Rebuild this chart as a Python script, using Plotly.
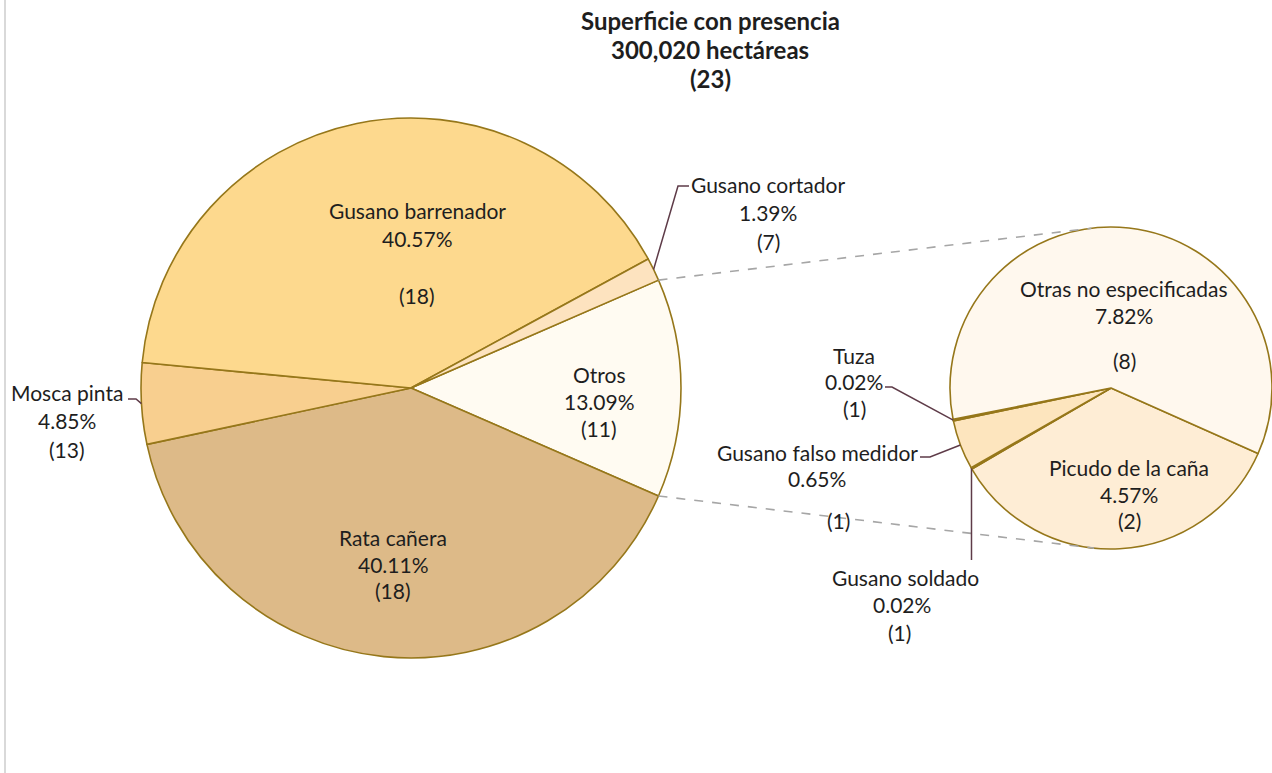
import math
import plotly.graph_objects as go

W, H = 1272, 773

# ---------------- data ----------------
main_labels = ["Otros", "Rata cañera", "Mosca pinta", "Gusano barrenador", "Gusano cortador"]
main_values = [13.09, 40.11, 4.85, 40.57, 1.39]
main_counts = [11, 18, 13, 18, 7]

sub_labels = ["Picudo de la caña", "Gusano soldado", "Gusano falso medidor", "Tuza", "Otras no especificadas"]
sub_values = [4.57, 0.02, 0.65, 0.02, 7.82]
sub_counts = [2, 1, 1, 1, 8]

title_lines = ["Superficie con presencia", "300,020 hectáreas", "(23)"]

# ---------------- style ----------------
main_colors = ["#FFFBF2", "#DDBA88", "#F8CF8F", "#FDD98E", "#FDE3BF"]
sub_colors = ["#FEEDD5", "#C9A24A", "#FDE5BE", "#C9A24A", "#FFF8EE"]
border = "#96771A"
leader = "#5E3B48"
txt = "#1E1E1E"
FONT = "Lato"
FS = 21

# geometry (pixels)
mc = (411, 388); mr = 270
sc = (1111, 388); sr = 161

main_start = 23.55  # math angle where first slice starts (clockwise)
sub_start = -24.0


def px(x, y):
    return x / W, 1 - y / H


def dom(c, r):
    x0, y1 = px(c[0] - r, c[1] - r)
    x1, y0 = px(c[0] + r, c[1] + r)
    return dict(x=[max(0, x0), min(1, x1)], y=[y0, y1])


def slice_angles(values, start):
    tot = sum(values)
    out = []
    a = start
    for v in values:
        span = v / tot * 360
        out.append((a, a - span))
        a -= span
    return out


def pt(c, r, ang):
    return c[0] + r * math.cos(math.radians(ang)), c[1] - r * math.sin(math.radians(ang))


fig = go.Figure()
fig.add_trace(go.Pie(
    labels=main_labels, values=main_values, sort=False, direction="clockwise",
    rotation=90 - main_start, domain=dom(mc, mr), textinfo="none",
    marker=dict(colors=main_colors, line=dict(color=border, width=1.6)),
    showlegend=False, hoverinfo="label+value",
))
fig.add_trace(go.Pie(
    labels=sub_labels, values=sub_values, sort=False, direction="clockwise",
    rotation=90 - sub_start, domain=dom(sc, sr), textinfo="none",
    marker=dict(colors=sub_colors, line=dict(color=border, width=1.6)),
    showlegend=False, hoverinfo="label+value",
))

annotations = []


def add_text(x, y, s, bold=False, size=FS):
    xx, yy = px(x, y)
    annotations.append(dict(
        x=xx, y=yy, xref="paper", yref="paper", text=f"<b>{s}</b>" if bold else s,
        showarrow=False, xanchor="center", yanchor="middle",
        font=dict(family=FONT, size=size, color=txt)))


# title
for s, y in zip(title_lines, [20, 50, 78]):
    add_text(710, y, s, bold=True, size=24)


def pct(v):
    return f"{v:.2f}%"


def label(name, v, n, x, ys, xs=None):
    xs = xs or [x, x, x]
    add_text(xs[0], ys[0], name)
    add_text(xs[1], ys[1], pct(v))
    add_text(xs[2], ys[2], f"({n})")


mi = {k: i for i, k in enumerate(main_labels)}
si = {k: i for i, k in enumerate(sub_labels)}

label("Gusano barrenador", main_values[mi["Gusano barrenador"]], main_counts[mi["Gusano barrenador"]], 417, [210, 238, 295])
label("Gusano cortador", main_values[mi["Gusano cortador"]], main_counts[mi["Gusano cortador"]], 768, [184, 212, 242])
label("Otros", main_values[mi["Otros"]], main_counts[mi["Otros"]], 599, [374, 401, 429])
label("Rata cañera", main_values[mi["Rata cañera"]], main_counts[mi["Rata cañera"]], 393, [537, 564, 590])
label("Mosca pinta", main_values[mi["Mosca pinta"]], main_counts[mi["Mosca pinta"]], 67, [392, 420, 449])
label("Otras no especificadas", sub_values[si["Otras no especificadas"]], sub_counts[si["Otras no especificadas"]], 1124, [288, 315, 360])
label("Picudo de la caña", sub_values[si["Picudo de la caña"]], sub_counts[si["Picudo de la caña"]], 1129, [467, 494, 520])
label("Tuza", sub_values[si["Tuza"]], sub_counts[si["Tuza"]], 854, [355, 382, 408])
label("Gusano falso medidor", sub_values[si["Gusano falso medidor"]], sub_counts[si["Gusano falso medidor"]], 817, [452, 478, 520], xs=[817, 817, 838])
label("Gusano soldado", sub_values[si["Gusano soldado"]], sub_counts[si["Gusano soldado"]], 905, [577, 604, 632], xs=[905, 902, 900])

shapes = []


def path(points, color, width=1.5, dash="solid"):
    d = "M " + " L ".join(f"{px(x, y)[0]:.6f},{px(x, y)[1]:.6f}" for x, y in points)
    shapes.append(dict(type="path", path=d, xref="paper", yref="paper",
                       line=dict(color=color, width=width, dash=dash), layer="above"))


ma = slice_angles(main_values, main_start)
sa = slice_angles(sub_values, sub_start)

# connectors from "Otros" slice to secondary pie
o0, o1 = ma[mi["Otros"]]
path([pt(mc, mr, o0), pt(sc, sr, 97)], "#A6A6A6", 1.6, "dash")
path([pt(mc, mr, o1), pt(sc, sr, -96)], "#A6A6A6", 1.6, "dash")


def mid(angs, i):
    a0, a1 = angs[i]
    return (a0 + a1) / 2


# leader lines
p = pt(mc, mr, mid(ma, mi["Gusano cortador"]))
path([p, (678, 186), (689, 186)], leader)
p = pt(mc, mr, mid(ma, mi["Mosca pinta"]))
path([p, (136, 399), (128, 399)], leader)
p = pt(sc, sr, mid(sa, si["Tuza"]))
path([p, (892, 387), (885, 387)], leader)
p = pt(sc, sr, mid(sa, si["Gusano falso medidor"]))
path([p, (930, 457), (920, 457)], leader)
p = pt(sc, sr, mid(sa, si["Gusano soldado"]))
path([p, (p[0], 560)], leader)

# chart left border
shapes.append(dict(type="line", x0=px(5, 0)[0], x1=px(5, 0)[0], y0=0, y1=1, xref="paper", yref="paper",
                   line=dict(color="#D9D9D9", width=2)))

fig.update_layout(
    width=W, height=H, margin=dict(l=0, r=0, t=0, b=0),
    paper_bgcolor="white", plot_bgcolor="white",
    annotations=annotations, shapes=shapes,
    font=dict(family=FONT, size=FS, color=txt),
)
fig.write_html("out.html", config={"displayModeBar": False},
               post_script="document.body.style.margin='0';document.body.style.overflow='hidden';")
